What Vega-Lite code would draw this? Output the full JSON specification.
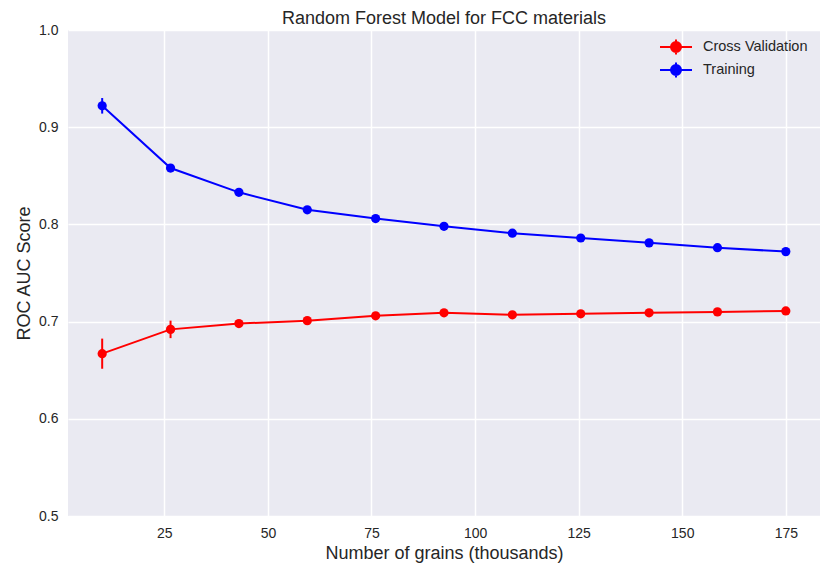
{
  "$schema": "https://vega.github.io/schema/vega-lite/v6.json",
  "autosize": "none",
  "width": 752,
  "height": 486,
  "padding": {"left": 68, "top": 30, "right": 10, "bottom": 55},
  "background": "white",
  "title": {
    "text": "Random Forest Model for FCC materials",
    "fontSize": 18,
    "fontWeight": "normal",
    "font": "Liberation Sans",
    "color": "#262626",
    "offset": 6,
    "dy": 11
  },
  "data": {
    "values": [
      {"grains": 10, "score": 0.667, "err": 0.0155, "set": "Cross Validation"},
      {"grains": 26.5, "score": 0.692, "err": 0.009, "set": "Cross Validation"},
      {"grains": 43, "score": 0.698, "err": 0.003, "set": "Cross Validation"},
      {"grains": 59.5, "score": 0.701, "err": 0.003, "set": "Cross Validation"},
      {"grains": 76, "score": 0.706, "err": 0.003, "set": "Cross Validation"},
      {"grains": 92.5, "score": 0.709, "err": 0.002, "set": "Cross Validation"},
      {"grains": 109, "score": 0.707, "err": 0.002, "set": "Cross Validation"},
      {"grains": 125.5, "score": 0.708, "err": 0.002, "set": "Cross Validation"},
      {"grains": 142, "score": 0.709, "err": 0.002, "set": "Cross Validation"},
      {"grains": 158.5, "score": 0.710, "err": 0.002, "set": "Cross Validation"},
      {"grains": 175, "score": 0.711, "err": 0.002, "set": "Cross Validation"},
      {"grains": 10, "score": 0.922, "err": 0.008, "set": "Training"},
      {"grains": 26.5, "score": 0.858, "err": 0.003, "set": "Training"},
      {"grains": 43, "score": 0.833, "err": 0.002, "set": "Training"},
      {"grains": 59.5, "score": 0.815, "err": 0.002, "set": "Training"},
      {"grains": 76, "score": 0.806, "err": 0.002, "set": "Training"},
      {"grains": 92.5, "score": 0.798, "err": 0.002, "set": "Training"},
      {"grains": 109, "score": 0.791, "err": 0.002, "set": "Training"},
      {"grains": 125.5, "score": 0.786, "err": 0.002, "set": "Training"},
      {"grains": 142, "score": 0.781, "err": 0.002, "set": "Training"},
      {"grains": 158.5, "score": 0.776, "err": 0.002, "set": "Training"},
      {"grains": 175, "score": 0.772, "err": 0.002, "set": "Training"}
    ]
  },
  "encoding": {
    "x": {
      "field": "grains",
      "type": "quantitative",
      "title": "Number of grains (thousands)",
      "scale": {"domain": [1.75, 183.25], "nice": false, "zero": false},
      "axis": {"values": [25, 50, 75, 100, 125, 150, 175], "labelPadding": 10}
    },
    "y": {
      "field": "score",
      "type": "quantitative",
      "title": "ROC AUC Score",
      "scale": {"domain": [0.5, 1.0], "nice": false, "zero": false},
      "axis": {"values": [0.5, 0.6, 0.7, 0.8, 0.9, 1.0], "format": ".1f", "labelPadding": 10}
    },
    "color": {
      "field": "set",
      "type": "nominal",
      "title": null,
      "scale": {"domain": ["Cross Validation", "Training"], "range": ["#ff0000", "#0000ff"]},
      "legend": {
        "orient": "none",
        "legendX": 597,
        "legendY": 6,
        "symbolType": "M-1.6,0L1.6,0M0,-0.75L0,0.75M-0.5,0A0.5,0.5,0,1,1,0.5,0A0.5,0.5,0,1,1,-0.5,0Z",
        "symbolSize": 400,
        "symbolStrokeWidth": 2,
        "labelOffset": 16,
        "labelFontSize": 14.5,
        "labelFont": "Liberation Sans",
        "labelColor": "#262626",
        "rowPadding": -4,
        "padding": 0
      }
    }
  },
  "layer": [
    {"mark": {"type": "line", "strokeWidth": 2}},
    {"mark": {"type": "errorbar", "ticks": false, "thickness": 2}, "encoding": {"yError": {"field": "err"}}},
    {"mark": {"type": "point", "filled": true, "size": 85, "opacity": 1}}
  ],
  "config": {
    "view": {"fill": "#eaeaf2", "stroke": null},
    "axis": {
      "domain": false,
      "ticks": false,
      "grid": true,
      "gridColor": "white",
      "gridWidth": 1.5,
      "labelFont": "Liberation Sans",
      "labelFontSize": 14,
      "labelColor": "#262626",
      "titleFont": "Liberation Sans",
      "titleFontSize": 18,
      "titleFontWeight": "normal",
      "titleColor": "#262626"
    },
    "axisX": {"titlePadding": 4},
    "axisY": {"titlePadding": 5}
  }
}
